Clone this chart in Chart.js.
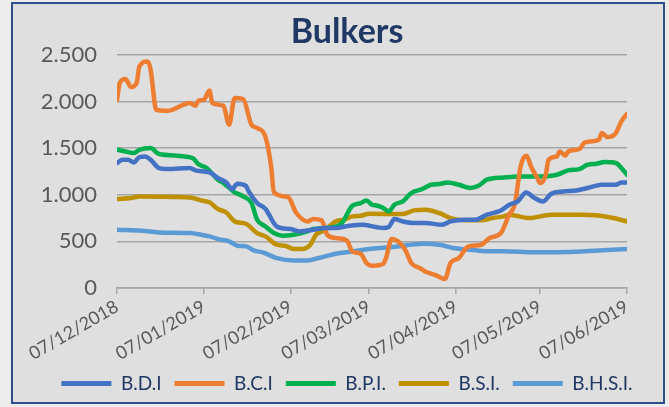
<!DOCTYPE html>
<html>
<head>
<meta charset="utf-8">
<script src="https://cdn.jsdelivr.net/npm/chart.js@4/dist/chart.umd.min.js"></script>
<style>
html,body{margin:0;padding:0;background:#ececec;}
#frame{position:absolute;left:11px;top:2px;width:650px;height:398px;border:2px solid #2f4f8a;background:#dfdfdf;overflow:hidden;}
#c{display:block;}
</style>
</head>
<body>
<div id="frame"><canvas id="c" width="668" height="398"></canvas></div>
<script>
/***********************
 DATA (x = days since 07/12/2018)
************************/
const tickDays=[0,31,62,90,121,151,182];
const tickLabels=["07/12/2018","07/01/2019","07/02/2019","07/03/2019","07/04/2019","07/05/2019","07/06/2019"];

const bdiDays=[0,2,4,6,8,10,12,15,18,26,28,33,36,39,41,43,46,47,50,53,57,62,65,70,74,78,83,88,90,95,97,99,102,106,110,116,119,124,128,132,135,137,140,143,146,149,152,155,159,164,168,173,178,180,182];
const bdiValues=[1340,1375,1375,1346,1404,1411,1375,1286,1275,1286,1261,1239,1179,1132,1061,1118,1095,1035,911,847,660,632,607,625,643,643,668,678,668,643,654,739,714,697,697,678,714,732,732,786,810,830,893,928,1025,964,928,1011,1035,1046,1072,1107,1107,1132,1132];

const bciDays=[0,1,3,5,7,8,11,12,14,18,26,28,29,31,33,34,38,40,42,45,48,50,53,55,56,61,64,68,70,73,75,78,82,84,87,89,91,95,96,98,101,103,105,108,110,114,117,119,122,125,130,133,137,140,142,144,146,148,150,151,153,154,157,158,160,161,165,167,172,173,175,178,180,182];
const bciValues=[2018,2197,2240,2154,2197,2375,2429,2340,1911,1900,1983,1954,2007,2018,2118,1983,1954,1750,2036,2026,1750,1715,1618,1303,1025,975,804,714,739,725,571,536,510,392,368,268,239,257,321,525,482,400,268,214,178,132,96,268,321,439,464,536,590,790,900,1300,1418,1286,1179,1125,1214,1375,1411,1464,1418,1464,1490,1561,1590,1661,1618,1661,1786,1868];

const bpiDays=[0,3,6,8,12,15,27,29,32,36,38,42,45,48,50,53,56,59,63,68,70,75,80,84,87,89,91,93,95,97,99,102,105,109,112,115,118,122,126,129,132,138,143,151,157,161,165,168,171,174,178,180,182];
const bpiValues=[1482,1464,1447,1482,1500,1436,1393,1329,1286,1161,1125,1025,982,911,732,660,589,561,571,607,632,643,689,882,911,939,893,882,857,821,893,928,1018,1061,1107,1115,1132,1107,1072,1096,1161,1185,1196,1196,1214,1261,1275,1322,1332,1350,1340,1286,1214];

const bsiDays=[0,5,8,26,30,33,36,39,42,46,50,53,57,60,63,66,69,71,74,78,81,84,87,90,102,106,110,115,119,125,130,134,138,140,147,155,166,171,177,182];
const bsiValues=[954,964,982,971,939,918,847,810,714,689,589,553,464,453,418,418,464,571,618,714,732,768,775,796,793,832,839,804,750,725,725,750,768,786,750,786,786,779,750,714];

const bhsiDays=[0,9,15,26,30,33,37,40,43,46,49,52,57,63,68,72,78,84,90,100,109,115,120,126,132,138,149,160,172,182];
const bhsiValues=[625,614,596,589,571,553,518,500,453,446,400,382,321,296,296,321,368,392,418,446,475,464,429,411,393,393,382,386,403,418];

const seriesNames=["B.D.I","B.C.I","B.P.I.","B.S.I.","B.H.S.I."];
const seriesColors=["#4472c4","#ed7d31","#00b050","#bf9000","#5b9bd5"];
const seriesDays=[bdiDays,bciDays,bpiDays,bsiDays,bhsiDays];
const seriesValues=[bdiValues,bciValues,bpiValues,bsiValues,bhsiValues];

/***********************
 CHART
************************/
const FONT="Lato";
const datasets=seriesNames.map((name,i)=>({
  label:name,
  data:seriesValues[i].map((v,j)=>({x:seriesDays[i][j],y:v})),
  borderColor:seriesColors[i],
  backgroundColor:seriesColors[i],
  borderWidth:4.5,
  pointRadius:0,
  cubicInterpolationMode:"monotone",
  borderCapStyle:"round",
  borderJoinStyle:"round"
}));

new Chart(document.getElementById("c"),{
  type:"line",
  data:{datasets},
  options:{
    responsive:false,
    animation:false,
    layout:{padding:{left:0,right:0,top:0,bottom:-1}},
    plugins:{
      title:{display:true,text:"Bulkers",color:"#1f3864",
        font:{family:FONT,size:34,weight:"bold"},padding:{top:8,bottom:2}},
      legend:{position:"bottom",
        labels:{boxWidth:50,boxHeight:5,padding:13,color:"#1f3864",
          font:{family:FONT,size:19},
          generateLabels:ch=>Chart.defaults.plugins.legend.labels.generateLabels(ch).map(l=>{l.lineWidth=0;return l;})}},
      tooltip:{enabled:false}
    },
    scales:{
      x:{type:"linear",min:0,max:182,
        afterBuildTicks:s=>{s.ticks=tickDays.map(v=>({value:v}));},
        afterFit:s=>{s.height=73;},
        ticks:{autoSkip:false,minRotation:30,maxRotation:30,color:"#595959",padding:2,
          font:{family:FONT,size:18},
          callback:(v)=>tickLabels[tickDays.indexOf(v)]},
        grid:{drawOnChartArea:false,drawTicks:true,tickLength:6,color:"#a6a6a6",lineWidth:1.5},
        border:{display:true,color:"#a6a6a6",width:1.5}},
      y:{min:0,max:2500,
        afterFit:s=>{s.width=104;},
        ticks:{stepSize:500,color:"#595959",padding:20,font:{family:FONT,size:22},
          callback:v=>String(v).replace(/\B(?=(\d{3})+(?!\d))/g,".")},
        grid:{drawTicks:false,color:"#a6a6a6",lineWidth:1.5},
        border:{display:false}},
      // empty right margin so title and legend centre like the original
      yRight:{position:"right",min:0,max:1,
        afterFit:s=>{s.width=54;},
        ticks:{display:false},grid:{display:false},border:{display:false}}
    }
  }
});
</script>
</body>
</html>
